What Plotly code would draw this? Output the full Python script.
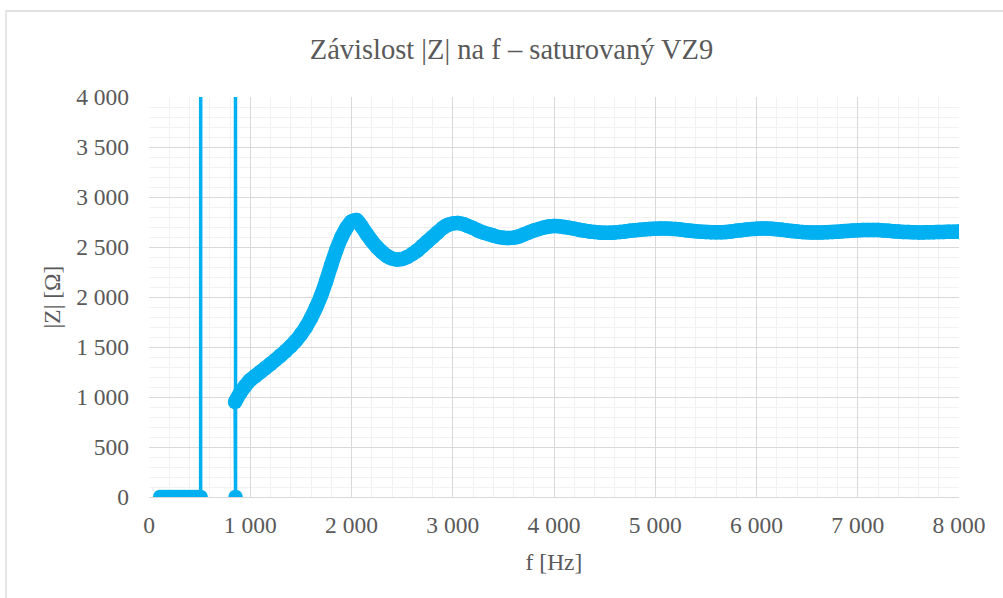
import plotly.graph_objects as go

# ---- data ----
f_zero = [110, 130, 150, 170, 190, 210, 230, 250, 270, 290, 310, 330, 350, 370,
          390, 410, 430, 450, 470, 490, 510]
z_zero = [0] * len(f_zero)

# jumps: last zero -> far above the axis limit -> back to 0 -> start of the curve
f_spike = [510, 515, 845, 855, 850]
z_spike = [0, 50000, 50000, 0, 945]

# isolated zero point between the two jumps
f_dot = [855]
z_dot = [0]

f_curve = [850, 900, 950, 1000, 1050, 1100, 1150, 1200, 1250, 1300, 1350, 1400, 1450,
           1500, 1550, 1600, 1650, 1700, 1750, 1800, 1850, 1900, 1950, 2000, 2050,
           2100, 2150, 2200, 2250, 2300, 2350, 2400, 2450, 2500, 2550, 2600, 2650,
           2700, 2750, 2800, 2850, 2900, 2950, 3000, 3050, 3100, 3150, 3200, 3250,
           3300, 3350, 3400, 3450, 3500, 3550, 3600, 3650, 3700, 3750, 3800, 3850,
           3900, 3950, 4000, 4050, 4100, 4150, 4200, 4250, 4300, 4350, 4400, 4450,
           4500, 4550, 4600, 4650, 4700, 4750, 4800, 4850, 4900, 4950, 5000, 5050,
           5100, 5150, 5200, 5250, 5300, 5350, 5400, 5450, 5500, 5550, 5600, 5650,
           5700, 5750, 5800, 5850, 5900, 5950, 6000, 6050, 6100, 6150, 6200, 6250,
           6300, 6350, 6400, 6450, 6500, 6550, 6600, 6650, 6700, 6750, 6800, 6850,
           6900, 6950, 7000, 7050, 7100, 7150, 7200, 7250, 7300, 7350, 7400, 7450,
           7500, 7550, 7600, 7650, 7700, 7750, 7800, 7850, 7900, 7950, 8000]
z_curve = [950, 1040, 1110, 1170, 1210, 1250, 1290, 1330, 1372, 1415, 1460, 1508, 1562,
           1625, 1700, 1790, 1895, 2015, 2160, 2320, 2470, 2595, 2690, 2755, 2770,
           2705, 2630, 2560, 2500, 2450, 2410, 2385, 2375, 2380, 2400, 2430, 2465,
           2510, 2555, 2600, 2645, 2690, 2720, 2735, 2740, 2730, 2710, 2690, 2665,
           2645, 2630, 2615, 2600, 2593, 2590, 2593, 2605, 2625, 2645, 2665, 2680,
           2695, 2705, 2710, 2707, 2700, 2692, 2683, 2672, 2663, 2655, 2650, 2645,
           2643, 2643, 2645, 2650, 2655, 2662, 2668, 2672, 2677, 2680, 2683, 2685,
           2685, 2683, 2680, 2675, 2668, 2662, 2657, 2653, 2650, 2648, 2647, 2647,
           2650, 2655, 2662, 2668, 2674, 2679, 2683, 2685, 2685, 2683, 2678, 2672,
           2666, 2660, 2655, 2650, 2647, 2645, 2645, 2646, 2648, 2650, 2653, 2657,
           2661, 2664, 2667, 2669, 2670, 2670, 2669, 2666, 2662, 2658, 2654, 2651,
           2649, 2647, 2646, 2646, 2647, 2648, 2650, 2651, 2652, 2653, 2655]

title_text = "Závislost |Z| na f – saturovaný VZ9"
x_title = "f [Hz]"
y_title = "|Z| [Ω]"

# ---- figure ----
COLOR = "#00B0F0"
FONT = "Liberation Serif, Times New Roman, serif"
TXT = "#595959"
MSIZE = 14.5

fig = go.Figure()
# zero-valued points
fig.add_trace(go.Scatter(
    x=f_zero, y=z_zero, mode="lines+markers",
    line=dict(color=COLOR, width=3.5),
    marker=dict(color=COLOR, size=MSIZE, line=dict(width=0)),
    showlegend=False,
))
# jumps (thin connecting line)
fig.add_trace(go.Scatter(
    x=f_spike, y=z_spike, mode="lines",
    line=dict(color=COLOR, width=3.5),
    showlegend=False,
))
fig.add_trace(go.Scatter(
    x=f_dot, y=z_dot, mode="markers",
    marker=dict(color=COLOR, size=MSIZE, line=dict(width=0)),
    showlegend=False,
))
# dense measured curve
fig.add_trace(go.Scatter(
    x=f_curve, y=z_curve, mode="lines+markers",
    line=dict(color=COLOR, width=MSIZE, shape="spline", smoothing=0.6),
    marker=dict(color=COLOR, size=MSIZE, line=dict(width=0)),
    showlegend=False,
))

W, H = 1003, 598
L, R, T, B = 149, 44, 97, 101
pw, ph = W - L - R, H - T - B


def px_to_paper(px, py):
    return (px - L) / pw, (H - B - py) / ph


x0, y0 = px_to_paper(6, 11)
x1, y1 = px_to_paper(1010, 610)
fig.add_shape(type="rect", xref="paper", yref="paper", x0=x0, y0=y1, x1=x1, y1=y0,
              line=dict(color="#D9D9D9", width=1.3), fillcolor="rgba(0,0,0,0)",
              layer="below")

tx, _ = px_to_paper(511.5, 0)

fig.update_layout(
    width=W, height=H,
    margin=dict(l=L, r=R, t=T, b=B, pad=0),
    paper_bgcolor="white", plot_bgcolor="white",
    separators=", ",
    font=dict(family=FONT, color=TXT, size=23.5),
    title=dict(text=title_text, x=tx, xref="paper", xanchor="center",
               y=1 - 49 / H, yref="container", yanchor="middle",
               font=dict(size=28.5, color=TXT, family=FONT)),
    xaxis=dict(
        range=[0, 8000], dtick=1000, tick0=0, tickformat=",d",
        showgrid=True, gridcolor="#D9D9D9", gridwidth=1.3,
        minor=dict(dtick=200, showgrid=True, gridcolor="#F2F2F2", gridwidth=1.3),
        showline=True, linecolor="#D9D9D9", linewidth=1.3,
        zeroline=False, ticks="", ticklabelstandoff=7,
        title=dict(text=x_title, standoff=16, font=dict(size=23.5, color=TXT)),
        fixedrange=True,
    ),
    yaxis=dict(
        range=[0, 4000], dtick=500, tick0=0, tickformat=",d",
        showgrid=True, gridcolor="#D9D9D9", gridwidth=1.3,
        minor=dict(dtick=100, showgrid=True, gridcolor="#F2F2F2", gridwidth=1.3),
        showline=False, zeroline=False, ticks="", ticklabelstandoff=19,
        title=dict(text=y_title, standoff=8, font=dict(size=23.5, color=TXT)),
        fixedrange=True,
    ),
)

fig.write_html("out.html", config={"displayModeBar": False},
               post_script="document.body.style.margin='0';")
